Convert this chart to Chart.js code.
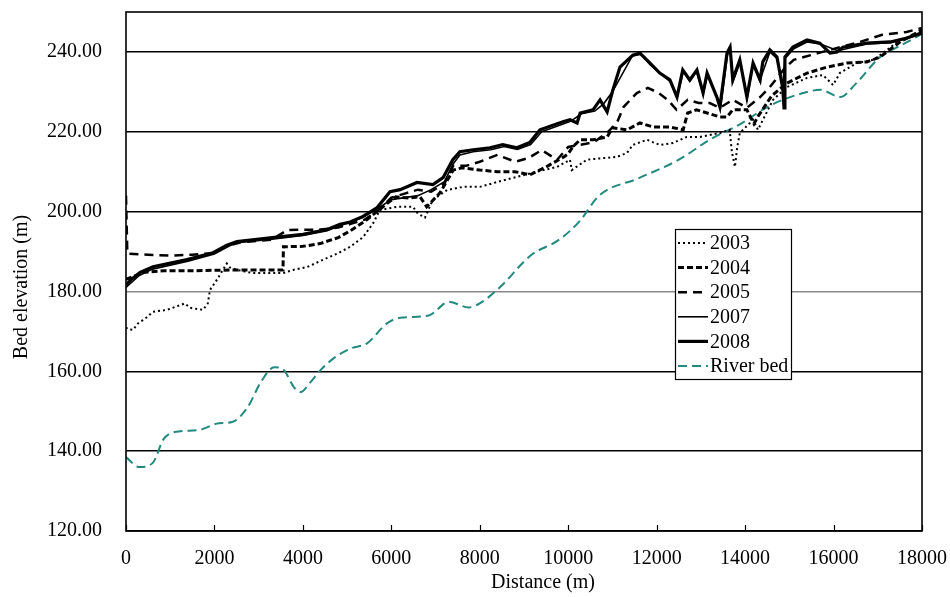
<!DOCTYPE html>
<html>
<head>
<meta charset="utf-8">
<script src="https://cdn.jsdelivr.net/npm/chart.js@4/dist/chart.umd.min.js"></script>
<style>
  html, body { margin: 0; padding: 0; background: #fff; }
  #wrap { width: 950px; height: 597px; }
</style>
</head>
<body>
<div id="wrap"><canvas id="bedChart" width="950" height="597"></canvas></div>
<script>
// bed elevation profiles (distance m -> elevation m)

const xTicks = [0, 2000, 4000, 6000, 8000, 10000, 12000, 14000, 16000, 18000];
const yTicks = [120, 140, 160, 180, 200, 220, 240];

const dist2003 = [0, 50, 160, 270, 380, 480, 610, 930, 1330, 1450, 1740, 1850, 1900, 2060, 2280, 2350, 2510, 2870, 3550, 3780, 4090, 4550, 4800, 5070, 5360, 5590, 5740, 6130, 6490, 6600, 6760, 6940, 7260, 7620, 8000, 8390, 8840, 9290, 9750, 10040, 10080, 10420, 10790, 11100, 11330, 11460, 11780, 12070, 12370, 12680, 12980, 13200, 13430, 13650, 13700, 13770, 13820, 13880, 14180, 14290, 14630, 14950, 15400, 15760, 15990, 16140, 16530, 16890, 17120, 17500, 18000];
const elev2003 = [171, 170.5, 170.4, 172, 172.8, 173.6, 174.9, 175.4, 177, 175.9, 175.4, 177, 180.4, 183, 187, 186, 185.4, 184.6, 184.6, 185.4, 186.1, 188.4, 189.6, 191.2, 193.6, 197.1, 200.4, 201.2, 201.2, 199.5, 198.5, 203, 205.4, 206.2, 206.2, 207.4, 208.7, 210, 211.2, 213, 210.4, 213, 213.4, 213.7, 214.7, 216.7, 218, 216.7, 217.2, 218.7, 218.7, 219.2, 219.7, 220.5, 215, 211.2, 216, 219.7, 223, 220.5, 228, 231.2, 233.5, 234.2, 231.7, 234.7, 237.2, 238, 239.7, 243, 244.8];

const dist2004 = [0, 400, 850, 1500, 2500, 3550, 3560, 4000, 4390, 4800, 5100, 5450, 5900, 6100, 6400, 6650, 6800, 7100, 7400, 7600, 8000, 8400, 8800, 9130, 9500, 9900, 10000, 10100, 10270, 10560, 10880, 11000, 11330, 11620, 11920, 12300, 12600, 12700, 12900, 13140, 13430, 13590, 13720, 14040, 14200, 14300, 14600, 14950, 15400, 15850, 16300, 16750, 17050, 17500, 18000];
const elev2004 = [183, 184.8, 185.2, 185.2, 185.4, 185.4, 191.2, 191.3, 192, 193.5, 195.4, 198, 202, 203.7, 203.4, 203.7, 201.2, 204.7, 210.4, 211, 210.4, 210, 210, 209.2, 211.2, 213.7, 214.5, 216.2, 218, 218, 218.7, 221, 220.5, 222.2, 221.2, 221.2, 220.5, 224.7, 225.5, 224.7, 223.7, 223.7, 225.5, 225.5, 222, 224, 229, 232.2, 234.7, 236.2, 237.2, 237.5, 238.7, 242.5, 245.5];

const dist2005 = [0, 30, 500, 1000, 1500, 1950, 2300, 2600, 3300, 3650, 4400, 4800, 5100, 5400, 5700, 6000, 6300, 6600, 6900, 7200, 7400, 7700, 8000, 8400, 8800, 9100, 9400, 9750, 10000, 10400, 10600, 10900, 11100, 11250, 11550, 11800, 12050, 12250, 12450, 12700, 12950, 13200, 13430, 13720, 14040, 14340, 14560, 14900, 15100, 15650, 16150, 16600, 17100, 17650, 18000];
const elev2005 = [204, 189.5, 189.2, 189, 189.2, 189.6, 191.5, 192.3, 193, 195.4, 195.5, 196, 197, 198, 200.3, 203.5, 204.5, 205.5, 205, 207, 211.5, 211.5, 212.5, 214.2, 212.5, 213.4, 215.4, 213, 216.2, 217, 217.5, 220, 222.2, 226.2, 229.7, 231, 229.7, 228, 225.5, 228, 227.2, 227.2, 226, 228, 226, 228.7, 231.2, 236, 238, 239.7, 241.2, 242.5, 244.3, 245, 246];

const dist2007 = [0, 300, 600, 1400, 2000, 2300, 2500, 3250, 4000, 4550, 4850, 5350, 5700, 6000, 6300, 6600, 6900, 7200, 7400, 7550, 7850, 8250, 8550, 8850, 9150, 9400, 9900, 10050, 10300, 10600, 10800, 11000, 11450, 11650, 11850, 12100, 12300, 12460, 12600, 12750, 12900, 13050, 13150, 13380, 13450, 13600, 13660, 13730, 13890, 14050, 14180, 14330, 14560, 14720, 14850, 14900, 15100, 15400, 15700, 16100, 16750, 17300, 18000];
const elev2007 = [181, 184, 185.6, 187.6, 189.4, 191.2, 192.2, 193, 194, 195.2, 196.5, 198.5, 200.8, 203, 203.5, 204, 205.5, 207.5, 212, 214.2, 215, 215.5, 216.3, 215.6, 216.8, 220, 222, 222.6, 224.5, 225.2, 227, 230, 239, 239.4, 236.8, 234.5, 232.6, 228.5, 235, 232.6, 235, 229.5, 234.3, 228.4, 226.5, 239.2, 240.8, 232.7, 237.6, 228.5, 236.8, 232.7, 240, 238.4, 231.5, 238.3, 240.8, 242.5, 242, 240.3, 242, 242.3, 244.5];

const dist2008 = [0, 120, 320, 610, 1380, 1970, 2280, 2510, 3260, 4000, 4550, 4840, 5070, 5360, 5680, 5970, 6200, 6580, 6940, 7170, 7390, 7550, 7850, 8230, 8520, 8840, 9130, 9360, 9880, 10040, 10200, 10270, 10560, 10720, 10880, 11010, 11170, 11460, 11620, 11850, 12070, 12300, 12460, 12590, 12750, 12910, 13050, 13140, 13360, 13430, 13590, 13660, 13720, 13880, 14040, 14180, 14340, 14400, 14560, 14720, 14850, 14880, 14900, 15080, 15400, 15690, 15920, 16080, 16210, 16750, 17280, 17660, 18000];
const elev2008 = [181.6, 183, 184.8, 186.2, 188, 189.7, 191.6, 192.5, 193.4, 194.3, 195.5, 196.8, 197.4, 198.8, 201, 205, 205.5, 207.3, 206.8, 208.5, 213, 215, 215.5, 216, 216.8, 216, 217.3, 220.5, 222.5, 223, 222.2, 224.7, 225.5, 228, 225, 230.5, 236.2, 239.2, 239.7, 237.2, 234.7, 233, 228.7, 235.5, 233, 235.5, 229.7, 234.7, 228.7, 226.2, 239.7, 241.2, 233, 238, 228.7, 237.2, 233, 237.5, 240.5, 238.7, 231, 226, 238.7, 241.2, 243, 242.2, 239.7, 240, 241.2, 242.2, 242.5, 243.5, 244.8];

const distRiver = [0, 300, 600, 850, 1100, 1650, 2100, 2400, 2750, 3050, 3350, 3550, 3800, 3950, 4150, 4400, 4700, 5100, 5450, 5900, 6200, 6850, 7300, 7750, 8000, 8450, 9150, 9800, 10250, 10700, 11600, 12500, 13200, 13900, 14550, 15250, 15700, 16150, 16500, 17050, 17500, 18000];
const elevRiver = [138.5, 136, 137, 143, 144.8, 145.3, 147, 147.3, 151, 157.3, 161, 160.5, 156, 154.8, 157, 160.3, 163.3, 165.8, 167, 172, 173.4, 174, 177.4, 176, 177, 181, 189, 193, 197.5, 204, 208.4, 213, 218, 222, 226.5, 229.5, 230.5, 228.7, 232, 238.7, 241.5, 244.5];

const FONT = '"Liberation Serif", "Times New Roman", serif';

function toPoints(xs, ys) {
    return xs.map((x, i) => ({ x: x, y: ys[i] }));
}

// 범례, 축 제목, 안쪽 눈금, 테두리
const decorPlugin = {
    id: 'decor',
    afterDraw(chart) {
        const ctx = chart.ctx;
        const area = chart.chartArea;
        const xs = chart.scales.x;

        ctx.save();
        // inside tick marks on the x axis
        ctx.strokeStyle = '#000';
        ctx.lineWidth = 1.2;
        xTicks.forEach(v => {
            const px = Math.round(xs.getPixelForValue(v)) + 0.5;
            ctx.beginPath();
            ctx.moveTo(px, area.bottom);
            ctx.lineTo(px, area.bottom - 6);
            ctx.stroke();
        });

        // frame
        ctx.lineWidth = 1.6;
        ctx.strokeRect(area.left, area.top, area.right - area.left, area.bottom - area.top);

        // axis titles
        ctx.fillStyle = '#000';
        ctx.font = '20px ' + FONT;
        ctx.textAlign = 'center';
        ctx.textBaseline = 'middle';
        ctx.fillText('Distance (m)', 543, 583);
        ctx.translate(22, 287);
        ctx.rotate(-Math.PI / 2);
        ctx.fillText('Bed elevation (m)', 0, 0);
        ctx.restore();

        // legend box
        ctx.save();
        const bx = 675, by = 229, bw = 116, bh = 150;
        ctx.fillStyle = '#fff';
        ctx.fillRect(bx, by, bw, bh);
        ctx.strokeStyle = '#000';
        ctx.lineWidth = 1.2;
        ctx.strokeRect(bx + 0.5, by + 0.5, bw, bh);
        ctx.font = '20px ' + FONT;
        ctx.textAlign = 'left';
        ctx.textBaseline = 'middle';
        chart.data.datasets.forEach((ds, i) => {
            const y = by + 14 + i * 24.6;
            ctx.beginPath();
            ctx.strokeStyle = ds.borderColor;
            ctx.lineWidth = ds.borderWidth;
            ctx.setLineDash(ds.borderDash || []);
            ctx.moveTo(bx + 3, y);
            ctx.lineTo(bx + 33, y);
            ctx.stroke();
            ctx.setLineDash([]);
            ctx.fillStyle = '#000';
            ctx.fillText(ds.label, bx + 35, y + 1);
        });
        ctx.restore();
    }
};

const baseLine = { showLine: true, pointRadius: 0, fill: false, tension: 0, borderColor: '#000' };

new Chart(document.getElementById('bedChart'), {
    type: 'scatter',
    data: {
        datasets: [
            Object.assign({}, baseLine, { label: '2003', data: toPoints(dist2003, elev2003), borderWidth: 2, borderDash: [2, 3] }),
            Object.assign({}, baseLine, { label: '2004', data: toPoints(dist2004, elev2004), borderWidth: 3, borderDash: [6, 3] }),
            Object.assign({}, baseLine, { label: '2005', data: toPoints(dist2005, elev2005), borderWidth: 2.5, borderDash: [9, 6] }),
            Object.assign({}, baseLine, { label: '2007', data: toPoints(dist2007, elev2007), borderWidth: 1.6 }),
            Object.assign({}, baseLine, { label: '2008', data: toPoints(dist2008, elev2008), borderWidth: 3.2 }),
            Object.assign({}, baseLine, {
                label: 'River bed', data: toPoints(distRiver, elevRiver),
                borderColor: '#22897f', borderWidth: 2, borderDash: [9, 5],
                cubicInterpolationMode: 'monotone'
            })
        ]
    },
    options: {
        responsive: false,
        animation: false,
        layout: { autoPadding: false, padding: { left: 0, top: 12, right: 28, bottom: 0 } },
        plugins: {
            legend: { display: false },
            tooltip: { enabled: false }
        },
        scales: {
            x: {
                type: 'linear',
                min: 0,
                max: 18000,
                afterBuildTicks: scale => { scale.ticks = xTicks.map(v => ({ value: v })); },
                afterFit: scale => {
                    scale.height = 66;
                    scale.paddingLeft = 0;
                    scale.paddingRight = 0;
                },
                grid: { display: false, drawTicks: false },
                border: { display: false },
                ticks: {
                    color: '#000',
                    font: { family: FONT, size: 20 },
                    padding: 16,
                    maxRotation: 0,
                    callback: v => String(v)
                }
            },
            y: {
                type: 'linear',
                min: 120,
                max: 250,
                afterBuildTicks: scale => { scale.ticks = yTicks.map(v => ({ value: v })); },
                afterFit: scale => {
                    scale.width = 126;
                    scale.paddingTop = 0;
                    scale.paddingBottom = 0;
                },
                grid: {
                    drawTicks: false,
                    lineWidth: 1.6,
                    color: c => (c.tick && c.tick.value === 180) ? '#8a8a8a' : '#000'
                },
                border: { display: false },
                ticks: {
                    color: '#000',
                    font: { family: FONT, size: 20 },
                    padding: 24,
                    callback: v => Number(v).toFixed(2)
                }
            }
        }
    },
    plugins: [decorPlugin]
});
</script>
</body>
</html>
